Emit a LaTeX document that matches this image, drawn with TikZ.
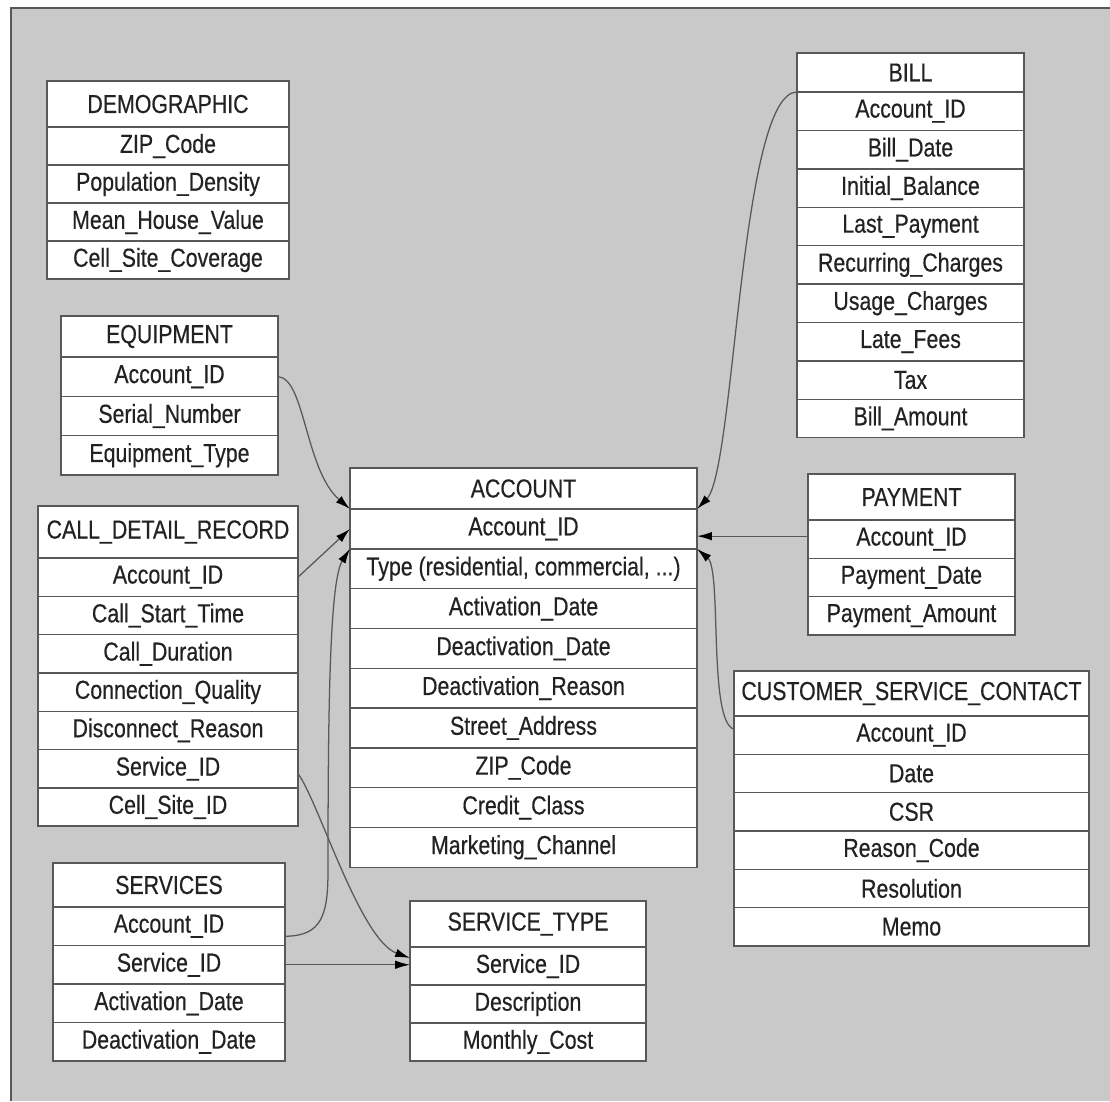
\documentclass[tikz,border=0pt]{standalone}
\usepackage{fontspec}
\setmainfont{Liberation Sans}[FakeStretch=0.82, FakeBold=0.4]
\usetikzlibrary{arrows.meta, calc}
\definecolor{bgGray}{RGB}{201,201,201}
\definecolor{lineGray}{RGB}{88,88,88}
\definecolor{inkGray}{RGB}{34,34,34}
\newcommand{\ertdots}{...}

% table: name, left, right, top, header height, row height, title, fields
\newcommand{\ertable}[8]{%
  \pgfmathsetmacro\tblw{(#3-#2)*0.025}
  \node[cell, minimum width=\tblw cm, minimum height=#5*0.025cm] (#1-0) at (#2,#4) {#7};
  \foreach \fld [count=\i] in {#8} {
    \pgfmathtruncatemacro\prev{\i-1}
    \node[cell, minimum width=\tblw cm, minimum height=#6*0.025cm] (#1-\i) at (#1-\prev.south west) {\fld};
  }
}

\begin{document}
\begin{tikzpicture}[
    x=0.025cm, y=-0.025cm,
    cell/.style={rectangle, draw=lineGray, line width=1pt, fill=white, anchor=north west,
        inner sep=1pt, outer sep=0pt, text=inkGray, font=\fontsize{18.5}{21}\selectfont},
    fk/.style={draw=lineGray, line width=0.9pt, -{Latex[length=10.5pt, width=6pt, color=black]}}
]
\useasboundingbox (0,0) rectangle (1110,1101);
\fill[bgGray] (11,8) rectangle (1110,1101);
\draw[lineGray, line width=1.4pt] (11,1101) -- (11,8) -- (1110,8);

\ertable{demo}{47}{289}{81}{46}{38}{DEMOGRAPHIC}{ZIP\_Code, Population\_Density, Mean\_House\_Value, Cell\_Site\_Coverage}
\ertable{bill}{797}{1024}{53}{39}{38.4}{BILL}{Account\_ID, Bill\_Date, Initial\_Balance, Last\_Payment, Recurring\_Charges, Usage\_Charges, Late\_Fees, Tax, Bill\_Amount}
\ertable{equip}{61}{278}{316}{41}{39.3}{EQUIPMENT}{Account\_ID, Serial\_Number, Equipment\_Type}
\ertable{cdr}{38}{298}{506}{52}{38.3}{CALL\_DETAIL\_RECORD}{Account\_ID, Call\_Start\_Time, Call\_Duration, Connection\_Quality, Disconnect\_Reason, Service\_ID, Cell\_Site\_ID}
\ertable{acc}{350}{697}{468}{41}{39.8}{ACCOUNT}{Account\_ID, {Type (residential, commercial, \ertdots)}, Activation\_Date, Deactivation\_Date, Deactivation\_Reason, Street\_Address, ZIP\_Code, Credit\_Class, Marketing\_Channel}
\ertable{pay}{808}{1015}{474}{46}{38.3}{PAYMENT}{Account\_ID, Payment\_Date, Payment\_Amount}
\ertable{csc}{734}{1089}{671}{45}{38.3}{CUSTOMER\_SERVICE\_CONTACT}{Account\_ID, Date, CSR, Reason\_Code, Resolution, Memo}
\ertable{srv}{53}{285}{863}{44}{38.5}{SERVICES}{Account\_ID, Service\_ID, Activation\_Date, Deactivation\_Date}
\ertable{stype}{410}{646}{901}{46}{38}{SERVICE\_TYPE}{Service\_ID, Description, Monthly\_Cost}

% keys into ACCOUNT, right side
\draw[fk] (bill-1.north west) .. controls (740,92) and (735,470) .. (acc-1.north east);
\draw[fk] ($(pay-1.west)+(0,-3)$) -- ($(pay-1.west -| acc-1.east)+(0,-3)$);
\draw[fk] ($(csc-1.west)+(0,-6)$) .. controls (708,722) and (722,570) .. (acc-1.south east);
% keys into ACCOUNT, left side
\draw[fk] (equip-1.east) .. controls (305,378) and (305,470) .. (acc-1.north west);
\draw[fk] (cdr-1.east) -- (acc-1.west);
\draw[fk] ($(srv-1.east)+(0,10)$) .. controls (322,936) and (328,915) .. (328,870)
    .. controls (328,700) and (330,580) .. (acc-1.south west);
% keys into SERVICE_TYPE
\draw[fk] ($(cdr-6.east)+(0,5)$) .. controls (318,800) and (360,940) .. ($(stype-1.west)+(0,-8)$);
\draw[fk] (srv-2.east) -- (srv-2.east -| stype-1.west);
\end{tikzpicture}
\end{document}
